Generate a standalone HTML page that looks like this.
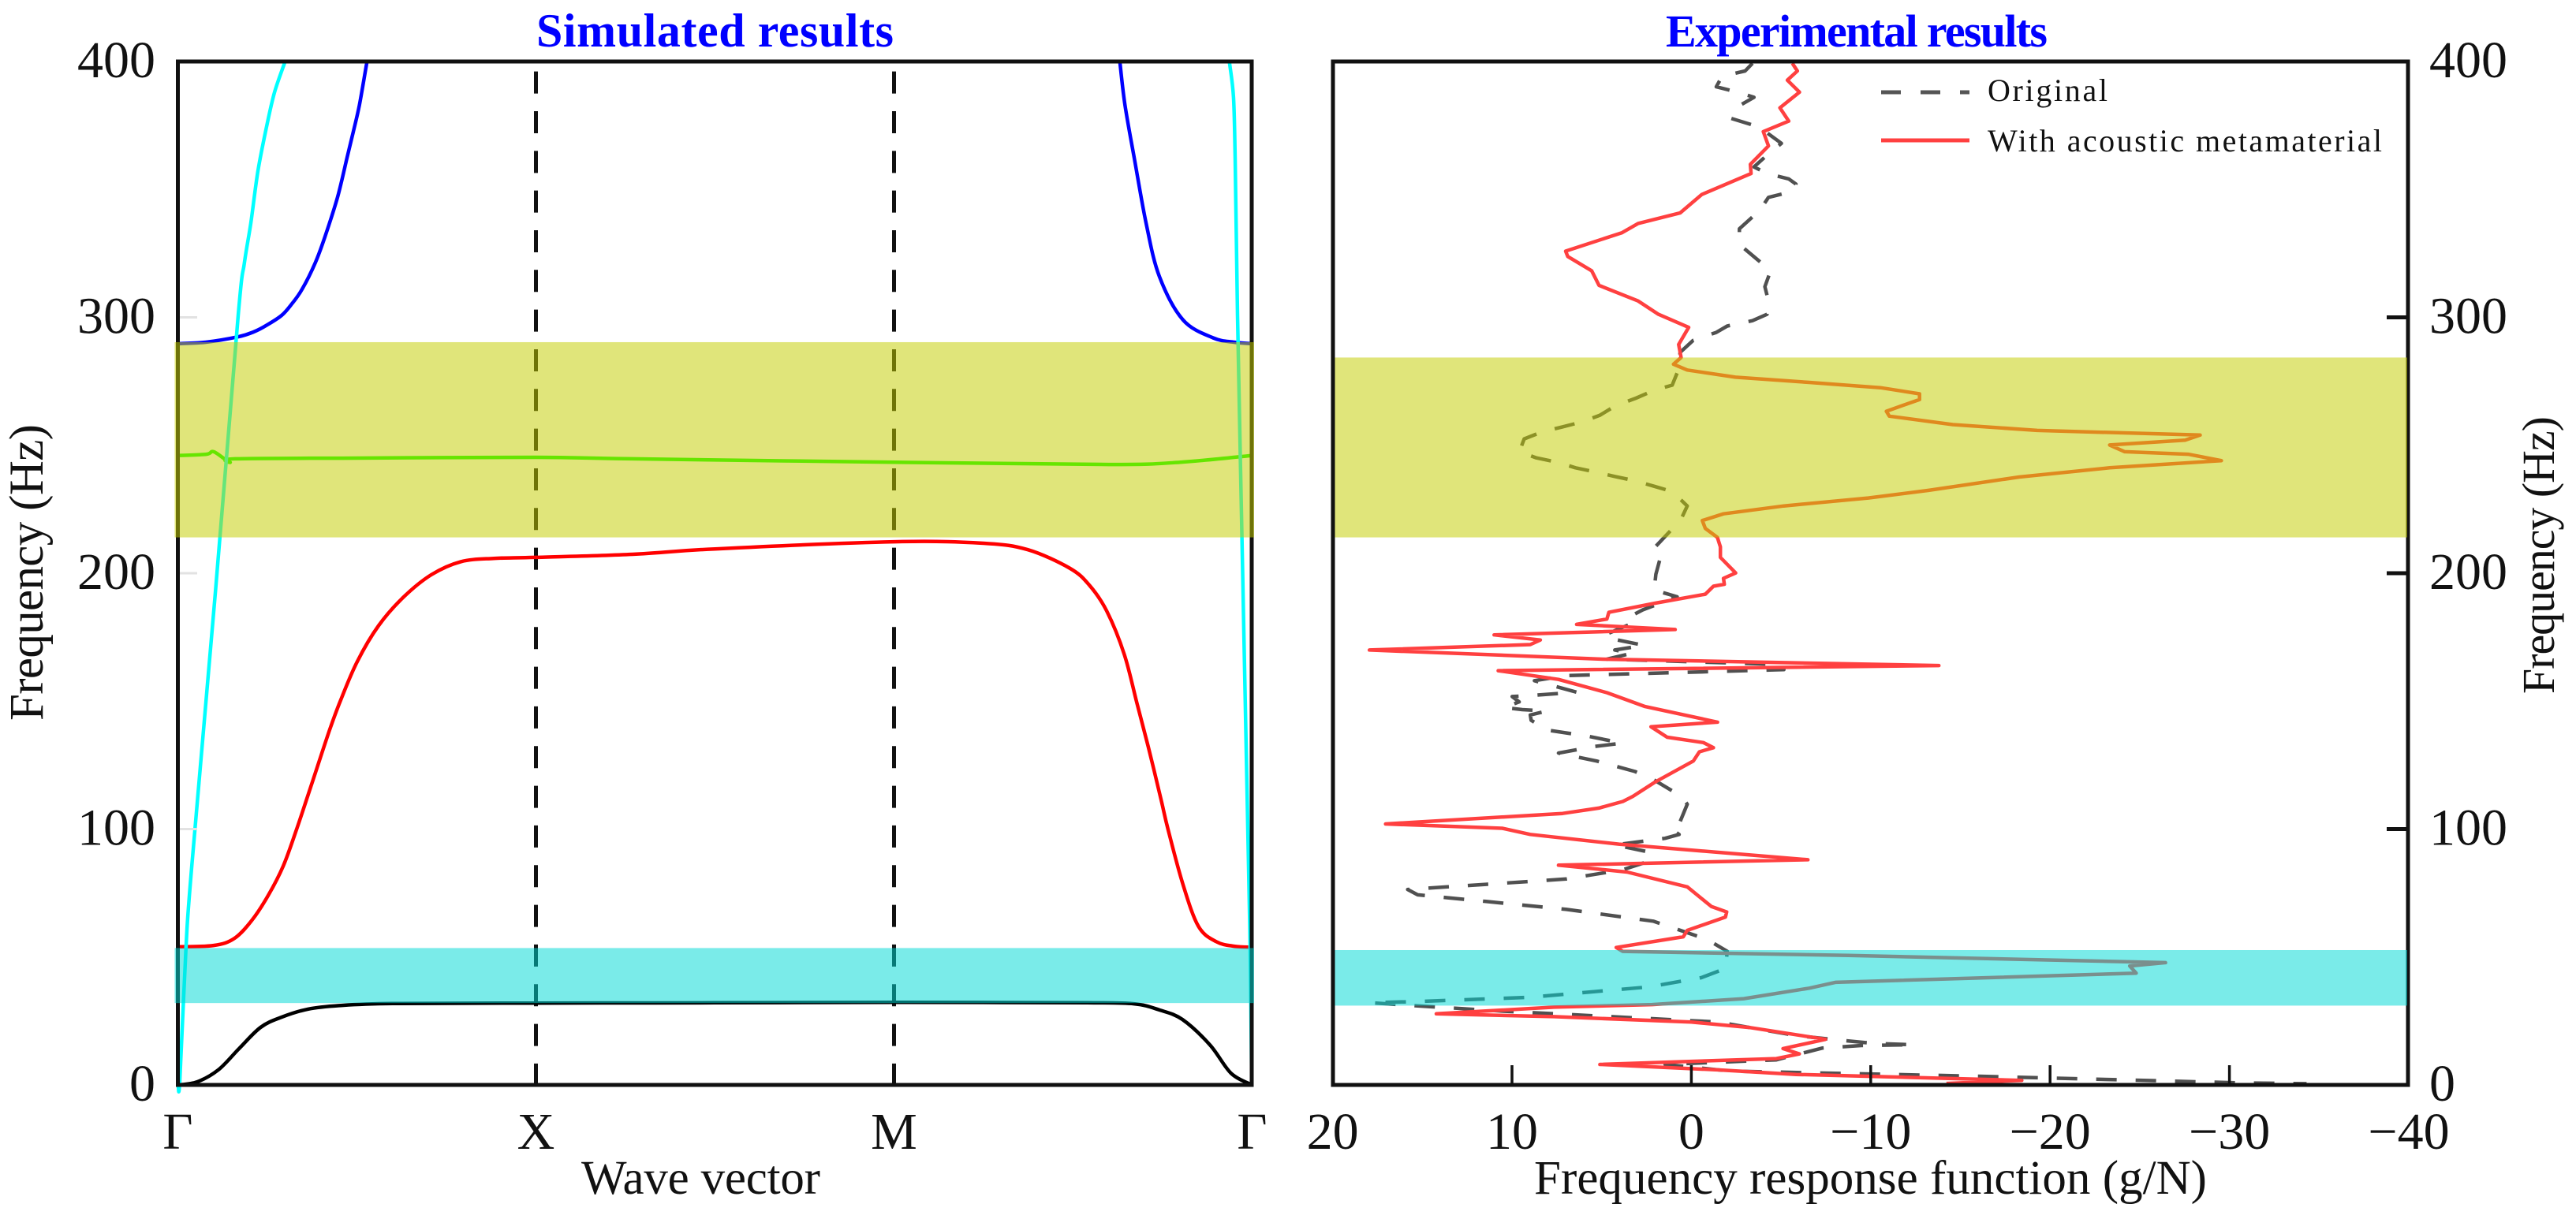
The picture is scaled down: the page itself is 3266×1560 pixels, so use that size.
<!DOCTYPE html>
<html lang="en">
<head>
<meta charset="utf-8">
<title>Simulated and experimental results</title>
<style>
html,body{margin:0;padding:0;background:#fff;width:3266px;height:1560px;overflow:hidden}
svg{display:block}
text{font-family:"Liberation Serif",serif;fill:#111}
</style>
</head>
<body>
<svg id="figure" xmlns="http://www.w3.org/2000/svg" width="3266" height="1560" viewBox="0 0 3266 1560">
  <rect width="3266" height="1560" fill="#fff"/>
  <g id="left-curves"></g>
  <g id="right-curves"></g>
  <g id="frames" fill="none" stroke="#111" stroke-width="5">
    <rect x="225.5" y="78" width="1361.5" height="1298"/>
    <rect x="1690" y="78" width="1363" height="1298"/>
  </g>
  <g id="ticks"></g>
  <g id="bands"></g>
  <g id="labels"></g>

  <text x="680" y="59" font-size="60" font-weight="bold" style="fill:#0000ff" textLength="453">Simulated results</text>
  <text x="2112" y="59" font-size="58" font-weight="bold" style="fill:#0000ff" textLength="484">Experimental results</text>
  <text x="737" y="1514" font-size="61" textLength="303">Wave vector</text>
  <text x="1945" y="1514" font-size="61" textLength="853">Frequency response function (g/N)</text>
  <text transform="translate(54 914) rotate(-90)" font-size="61" textLength="376">Frequency (Hz)</text>
  <text transform="translate(3238 880) rotate(-90)" font-size="58" textLength="352">Frequency (Hz)</text>

  <g>
    <line x1="2385" y1="117" x2="2497" y2="117" stroke="#555" stroke-width="5" stroke-dasharray="25 25"/>
    <text x="2520" y="128" font-size="40" textLength="152">Original</text>
    <line x1="2385" y1="178" x2="2497" y2="178" stroke="#ff4040" stroke-width="5"/>
    <text x="2520" y="192" font-size="40" textLength="500">With acoustic metamaterial</text>
  </g>
</svg>
<script>
// Left panel: band structure (k is path position: 0 = Gamma, 1 = X, 2 = M, 3 = Gamma; values in Hz)
const symmetryPoints = [1, 2];
const freqTicks = [0, 100, 200, 300, 400];
const leftKTicks = [0, 1, 2, 3];
const leftKLabels = ['Γ', 'X', 'M', 'Γ'];
const frfTicks = [20, 10, 0, -10, -20, -30, -40];
const frfLabels = ['20', '10', '0', '−10', '−20', '−30', '−40'];

const leftBandYellow = [214, 290.3];
const leftBandCyan = [32, 53.5];
const rightBandYellow = [214, 284.3];
const rightBandCyan = [31, 52.7];

const blackK = [0, 0.054, 0.113, 0.171, 0.231, 0.29, 0.363, 0.45, 0.6, 1, 1.5, 2, 2.3, 2.54, 2.67, 2.741, 2.805, 2.882, 2.941, 3];
const blackF = [0, 1.2, 5.9, 14.2, 22.5, 26.5, 29.6, 31, 31.8, 32, 32.1, 32.3, 32.2, 32.1, 31.7, 29.3, 25.6, 15.7, 4.6, 0];

const redK = [0, 0.1, 0.158, 0.207, 0.252, 0.294, 0.331, 0.377, 0.4227, 0.455, 0.501, 0.5606, 0.629, 0.708, 0.79, 0.882, 1, 1.27, 1.5, 2, 2.25, 2.373, 2.49, 2.545, 2.594, 2.643, 2.679, 2.71, 2.745, 2.765, 2.807, 2.85, 2.9, 2.95, 3];
const redF = [54, 54.5, 57.3, 64.4, 74, 85.5, 99.7, 119, 138.3, 150.5, 165.5, 179.5, 190.5, 199.4, 204.5, 205.8, 206.2, 207.4, 209.5, 212.3, 211.7, 209.2, 202, 195.4, 185.2, 168.3, 148.8, 132.2, 112, 100, 78.3, 62, 56, 54.2, 53.8];

const greenK = [0, 0.08, 0.1, 0.145, 0.16, 0.5, 1, 1.27, 2, 2.6, 2.8, 3];
const greenF = [246, 246.5, 247.5, 243.4, 244.7, 245, 245.3, 244.7, 243.4, 242.5, 243.4, 246];

const blueLeftK = [0, 0.078, 0.168, 0.2115, 0.249, 0.29, 0.319, 0.347, 0.384, 0.411, 0.446, 0.4725, 0.49, 0.507, 0.5275];
const blueLeftF = [289.7, 290.3, 292.4, 294.3, 297, 300.8, 305.4, 311, 321.4, 331.6, 347, 362.4, 372.6, 383, 399.4];
const blueRightK = [2.631, 2.645, 2.6707, 2.7039, 2.741, 2.807, 2.891, 2.95, 2.999];
const blueRightF = [399.4, 383, 362.4, 336.8, 316, 299, 292, 290.3, 289.7];

const cyanLeftK = [0.001, 0.0055, 0.023, 0.0385, 0.105, 0.1685, 0.186, 0.2037, 0.2236, 0.248, 0.27, 0.298];
const cyanLeftF = [0, 1.8, 54.2, 85, 193, 300.8, 321.4, 336.8, 357.2, 374.7, 388, 399.4];
const cyanRightK = [2.937, 2.948, 2.9526, 2.9592, 2.9725, 2.9857, 2.9945, 2.9989];
const cyanRightF = [399.4, 386, 362, 300.8, 208, 116, 53, 0];

// Right panel: frequency response (g/N) against frequency (Hz)
const metaFrf = [-5.63, -5.91, -5.35, -6.03, -4.94, -5.43, -4.01, -4.3, -3.29, -3.33, -0.58, 0.63, 2.97, 3.86, 7.01, 6.89, 5.56, 5.15, 2.97, 1.84, 0.15, 0.71, 0.57,
  1, 0.23, -2.46, -6.5, -10.54, -12.72, -12.72, -10.87, -11.04, -14.57, -19.28, -28.37, -27.53, -23.32, -24.16, -27.7, -29.55, -23.32, -18.27, -13.23, -9.86, -5.15, -1.79, -0.61, -0.78, -1.45, -1.62, -1.62,
  -2.47, -1.79, -1.84, -1.23, -0.78, 2.02, 4.6, 4.71, 6.4, 0.9, 11, 8.42, 8.98, 17.95, 4.94, -13.8, 10.77, 7.41, 4.71, 2.58, -1.46, 2.25, 1.35, -0.67, -1.23, -0.45, -0.11, 2.02, 3.26,
  3.82, 5.16, 7.18, 17.05, 10.55, 8.98, 4.04, -6.5, 7.41, 3.59, 0.23, -1.12, -1.97, -1.9, 0.23, 0.45, 4.19, 3.83, -8.76, -26.44, -24.44, -24.8, -8.03, -6.57, -2.92, 2.19, 7.66, 14.22, 7.66, 0, -3.28, -7.48, -5.11, -6.02, -4.74, 5.1, -1.46, -5.84, -18.42, -14.22];
const metaFreq = [399.3, 396.3, 392.7, 388, 381.9, 376.7, 372.6, 367, 359.8, 356.2, 348, 340.8, 336.7, 333.1, 325.9, 323.8, 318.2, 312.5, 306.4, 301.2, 296.1, 289.4, 284.3,
  281.7, 279.4, 276.6, 274.6, 272.5, 270.1, 267.9, 263.3, 261.4, 258.1, 255.8, 254, 252, 250.1, 247.5, 246.5, 244, 241.2, 237.6, 232.4, 229.4, 226.3, 223.2, 220.6, 217.5, 214, 210.3, 206.2,
  200.1, 198, 195.7, 194.9, 191.8, 188.3, 184.7, 182.1, 180, 178, 175.9, 173.9, 172.1, 170, 166.4, 163.9, 161.9, 158.5, 153.3, 147.9, 141.8, 140, 135.9, 133.8, 131.8, 130.2, 126.6, 118.4, 112.8,
  110.8, 108.2, 106.1, 102, 100.3, 97.9, 94.1, 88, 85.9, 83.2, 77.4, 69.7, 67.6, 65.6, 60.4, 57.9, 53.7, 52.2, 50.6, 47.8, 46.5, 43.7, 40.1, 37.8, 33.7, 31.4, 30.4, 27.8, 26.7, 24.6, 22.4, 17.8, 14.2, 12.1, 10.3, 8, 5.9, 4.1, 1.8, 0.6];

const origFrf = [-3.41, -3, -1.71, -1.39, -2.6, -3.49, -2.6, -2.2, -3.41, -4.22, -5.02, -4.3, -3.49, -4.22, -5.43, -5.83, -5.63, -4.3, -3.81, -2.68, -2.68, -3.73, -4.42, -4.1, -4.3, -4.22, -3.41, -2, -1.39, -0.1, 0.63,
  0.74, 1.07, 2.08, 3.09, 4.27, 5.11, 6.12, 7.23, 8.31, 9.32, 9.59, 8.64, 7.47, 6.46, 5.38, 4.27, 3.19, 2.08, 1.07, 0.23, 0.57, 1.31, 2.08, 1.68, 1.98,
  2.07, 0.79, 2.7, 3.14, 2.96, 4.83, 4.45, 2.65, 4.27, 3.32, 4.7, -5.05, -5.16, 6.96, 8.75, 6.4, 8.75, 9.99, 9.6, 10.44, 9.43, 8.08, 8.98, 8.93, 7.97, 5.84, 3.86, 5.39, 7.41, 5.28, 3.14, 2.13,
  0.56, 0.23, 0.68, 1.12, 0.68, 1.46, 4.27, 2.47, 2.25, 3.82, 6.96, 11.45, 15.82, 15.26, 11.45, 6.96, 2.13, -0.9,
  -2, -1.9, -0.55, 2.37, 9.11, 15.31, 17.87, 15.68, 10.48, -1.46, -5.84, -8.39, -10.21, -12.4, -9.48, -7.29, -4.74, 1.46, -2.19, -16.05, -30.64, -34.3];
const origFreq = [399.3, 396.3, 394.2, 390.1, 388, 386, 382.4, 377.8, 375.2, 372.1, 368, 363.9, 358.8, 356.2, 354.1, 352.1, 349.2, 346.9, 341.8, 334.6, 328.5, 322.3, 318.2, 312, 306.4, 301.2, 298.7, 296.6, 294.1, 291, 286.3,
  279.2, 273.5, 271.5, 268.4, 265.3, 261.7, 259.1, 257.1, 255.3, 252.5, 247.5, 245.1, 243.4, 241.2, 239.6, 237.8, 236.2, 234, 231.9, 226.3, 221.1, 215.5, 209.8, 207.3, 199.6,
  193.4, 190.8, 185.7, 184.1, 181.4, 175.9, 174.4, 171.8, 170, 168.7, 166.4, 164.3, 162.3, 160, 158, 153.5, 152.3, 151.8, 149.7, 147.5, 146.7, 146.1, 144.6, 142.5, 138.6, 136.4, 133.6, 132.3, 129.7, 126.6, 122.5, 119.4,
  112.8, 109.7, 102, 100, 97.9, 96.4, 93.8, 91.2, 87.7, 84.1, 80.5, 78.4, 76.4, 74.3, 71.7, 68.6, 64, 56.8,
  52.2, 45.5, 41.9, 38.3, 34.2, 32.6, 32.1, 31.1, 28.8, 24.6, 19.3, 17.4, 16.2, 15.7, 15.4, 14.4, 9.8, 8, 5.4, 3.4, 0.8, 0.5];

// Axis functions
function leftX(k) { return 225.5 + 454 * k; }
function freqY(f) { return 1376 - 3.245 * f; }
function rightX(v) { return 2144.4 - 22.74 * v; }

const NS = 'http://www.w3.org/2000/svg';
const leftGroup = document.getElementById('left-curves');
const rightGroup = document.getElementById('right-curves');
const tickGroup = document.getElementById('ticks');
const bandGroup = document.getElementById('bands');
const labelGroup = document.getElementById('labels');

function polyD(xs, ys) {
  return xs.map(function (x, i) { return (i ? 'L' : 'M') + x.toFixed(1) + ' ' + ys[i].toFixed(1); }).join(' ');
}
function smoothD(xs, ys) {
  let d = 'M' + xs[0].toFixed(1) + ' ' + ys[0].toFixed(1);
  for (let i = 0; i < xs.length - 1; i++) {
    const a = Math.max(i - 1, 0), b = i + 1, c = Math.min(i + 2, xs.length - 1);
    const c1x = xs[i] + (xs[b] - xs[a]) / 6, c1y = ys[i] + (ys[b] - ys[a]) / 6;
    const c2x = xs[b] - (xs[c] - xs[i]) / 6, c2y = ys[b] - (ys[c] - ys[i]) / 6;
    d += ' C' + c1x.toFixed(1) + ' ' + c1y.toFixed(1) + ' ' + c2x.toFixed(1) + ' ' + c2y.toFixed(1) + ' ' + xs[b].toFixed(1) + ' ' + ys[b].toFixed(1);
  }
  return d;
}
function makePath(parent, d, color, width, dash) {
  const p = document.createElementNS(NS, 'path');
  p.setAttribute('d', d);
  p.setAttribute('fill', 'none');
  p.setAttribute('stroke', color);
  p.setAttribute('stroke-width', width);
  p.setAttribute('stroke-linejoin', 'round');
  if (dash) p.setAttribute('stroke-dasharray', dash);
  parent.appendChild(p);
  return p;
}
function makeRect(parent, x1, x2, y1, y2, fill) {
  const r = document.createElementNS(NS, 'rect');
  r.setAttribute('x', x1);
  r.setAttribute('y', y1);
  r.setAttribute('width', x2 - x1);
  r.setAttribute('height', y2 - y1);
  r.setAttribute('fill', fill);
  parent.appendChild(r);
  return r;
}
function makeText(parent, x, y, str, anchor) {
  const t = document.createElementNS(NS, 'text');
  t.setAttribute('x', x);
  t.setAttribute('y', y);
  t.setAttribute('font-size', 66);
  t.setAttribute('text-anchor', anchor);
  t.textContent = str;
  parent.appendChild(t);
  return t;
}
function tickLine(x1, y1, x2, y2, color, w) {
  return makePath(tickGroup, 'M' + x1 + ' ' + y1 + ' L' + x2 + ' ' + y2, color, w);
}

// Symmetry-point dashed verticals
symmetryPoints.forEach(function (k) {
  const el = makePath(leftGroup, 'M' + leftX(k) + ' ' + freqY(396.1) + ' L' + leftX(k) + ' ' + freqY(0), '#111', 5, '28 22.33');
  
  
});

// Left-panel dispersion curves
let curve;
curve = makePath(leftGroup, smoothD(blackK.map(leftX), blackF.map(freqY)), '#000', 4.5);


curve = makePath(leftGroup, smoothD(redK.map(leftX), redF.map(freqY)), '#ff0000', 4.5);


curve = makePath(leftGroup, smoothD(greenK.map(leftX), greenF.map(freqY)), '#00ff00', 4.5);


curve = makePath(leftGroup, smoothD(blueLeftK.map(leftX), blueLeftF.map(freqY)), '#0000ff', 4.5);


curve = makePath(leftGroup, smoothD(blueRightK.map(leftX), blueRightF.map(freqY)), '#0000ff', 4.5);


curve = makePath(leftGroup, smoothD(cyanLeftK.map(leftX), cyanLeftF.map(freqY)), '#00ffff', 4.5);


curve = makePath(leftGroup, smoothD(cyanRightK.map(leftX), cyanRightF.map(freqY)), '#00ffff', 4.5);



// Right-panel response curves
curve = makePath(rightGroup, polyD(origFrf.map(rightX), origFreq.map(freqY)), '#505050', 4.5, '26 24');


curve = makePath(rightGroup, polyD(metaFrf.map(rightX), metaFreq.map(freqY)), '#ff4040', 4.5);



// Translucent bands sit on top of the curves
let band;
band = makeRect(bandGroup, 221.5, 1590, freqY(leftBandYellow[1]), freqY(leftBandYellow[0]), 'rgba(196,206,0,0.52)');


band = makeRect(bandGroup, 221.5, 1590, freqY(leftBandCyan[1]), freqY(leftBandCyan[0]), 'rgba(0,217,213,0.52)');


band = makeRect(bandGroup, 1692.5, 3052, freqY(rightBandYellow[1]), freqY(rightBandYellow[0]), 'rgba(196,206,0,0.52)');


band = makeRect(bandGroup, 1692.5, 3052, freqY(rightBandCyan[1]), freqY(rightBandCyan[0]), 'rgba(0,217,213,0.52)');



// Ticks and tick labels
freqTicks.forEach(function (f) {
  if (f > 0 && f < 400) {
    const rt = tickLine(3053, freqY(f), 3026, freqY(f), '#111', 5);
    
    
    const lt = tickLine(228, freqY(f), 250, freqY(f), '#e2e2e2', 3);
    
    
  }
  const ll = makeText(labelGroup, 197, freqY(f) + 20, String(f), 'end');
  
  
  const rl = makeText(labelGroup, 3080, freqY(f) + 20, String(f), 'start');
  
  
});
leftKTicks.forEach(function (k, i) {
  const kl = makeText(labelGroup, leftX(k), 1457, leftKLabels[i], 'middle');
  
  
});
frfTicks.forEach(function (v, i) {
  if (i > 0 && i < frfTicks.length - 1) {
    const bt = tickLine(rightX(v), 1376, rightX(v), 1351, '#111', 3.5);
    
    
  }
  const fl = makeText(labelGroup, rightX(v), 1457, frfLabels[i], 'middle');
  
  
});
</script>
</body>
</html>
